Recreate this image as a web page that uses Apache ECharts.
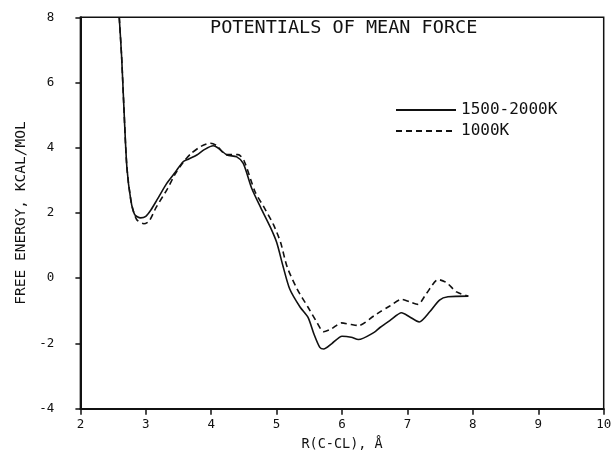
<!DOCTYPE html>
<html>
<head>
<meta charset="utf-8">
<script src="https://cdn.jsdelivr.net/npm/echarts@6/dist/echarts.min.js"></script>
<style>html,body{margin:0;padding:0;background:#fff}#c{width:611px;height:452px}</style>
</head>
<body>
<div id="c"></div>
<script>
var titleText = "POTENTIALS OF MEAN FORCE";
var xName = "R(C-CL), Å";
var yName = "FREE ENERGY, KCAL/MOL";
var seriesNames = ["1500-2000K", "1000K"];

var solidX = [2.594, 2.63, 2.66, 2.71, 2.77, 2.83, 2.92, 3.0, 3.08, 3.17, 3.32, 3.45, 3.57, 3.65, 3.78, 3.9, 4.03, 4.1, 4.24, 4.39, 4.49, 4.62, 4.76, 4.9, 5.0, 5.1, 5.2, 5.36, 5.48, 5.57, 5.66, 5.72, 5.84, 6.0, 6.14, 6.25, 6.49, 6.58, 6.73, 6.91, 7.03, 7.18, 7.34, 7.49, 7.62, 7.93];
var solidY = [8.0, 6.8, 5.46, 3.42, 2.4, 1.95, 1.85, 1.9, 2.1, 2.4, 2.91, 3.25, 3.57, 3.65, 3.78, 3.95, 4.06, 4.0, 3.78, 3.72, 3.52, 2.75, 2.15, 1.58, 1.1, 0.35, -0.33, -0.89, -1.2, -1.71, -2.12, -2.17, -2.01, -1.78, -1.81, -1.88, -1.66, -1.51, -1.3, -1.06, -1.18, -1.34, -1.03, -0.67, -0.57, -0.55];

var dashX = [2.594, 2.63, 2.66, 2.71, 2.78, 2.86, 2.97, 3.05, 3.16, 3.33, 3.45, 3.57, 3.69, 3.85, 3.99, 4.08, 4.23, 4.41, 4.5, 4.67, 4.8, 4.95, 5.06, 5.16, 5.31, 5.48, 5.6, 5.72, 5.84, 5.99, 6.14, 6.25, 6.49, 6.58, 6.73, 6.91, 7.03, 7.16, 7.29, 7.47, 7.6, 7.75, 7.93];
var dashY = [8.0, 6.8, 5.46, 3.42, 2.3, 1.8, 1.67, 1.75, 2.18, 2.74, 3.2, 3.55, 3.82, 4.05, 4.14, 4.07, 3.79, 3.79, 3.61, 2.65, 2.2, 1.65, 1.1, 0.35, -0.32, -0.89, -1.3, -1.64, -1.55, -1.37, -1.42, -1.45, -1.15, -1.03, -0.85, -0.65, -0.72, -0.8, -0.47, -0.04, -0.14, -0.42, -0.55];

function pairs(xs, ys) { return xs.map(function (x, i) { return [x, ys[i]]; }); }

var FONT = "DejaVu Sans Mono";
var chart = echarts.init(document.getElementById('c'), null, {renderer: 'canvas'});
chart.setOption({
  animation: false,
  backgroundColor: '#fff',
  title: {
    text: titleText, left: 210, top: 19, padding: 0,
    textStyle: {fontFamily: FONT, fontSize: 18.5, fontWeight: 'normal', color: '#111'}
  },
  legend: {
    show: true,
    orient: 'vertical', left: 395, top: 102, padding: 0,
    itemWidth: 60, itemHeight: 14, itemGap: 5,
    itemStyle: {opacity: 0},
    textStyle: {fontFamily: FONT, fontSize: 16, color: '#111'},
    data: seriesNames
  },
  grid: {left: 80.4, right: 7.3, top: 17.3, bottom: 43.3, show: true, borderColor: '#111', borderWidth: 1.5,
         containLabel: false, outerBoundsMode: 'none'},
  xAxis: {
    type: 'value', min: 2, max: 10, interval: 1,
    name: xName, nameLocation: 'middle', nameGap: 29,
    nameTextStyle: {fontFamily: FONT, fontSize: 13.5, color: '#111'},
    axisLine: {show: true, onZero: false, lineStyle: {color: '#111', width: 2}},
    axisTick: {show: true, inside: false, length: 6, lineStyle: {color: '#111', width: 1.5}},
    axisLabel: {fontFamily: FONT, fontSize: 12.5, color: '#111', margin: 10},
    splitLine: {show: false}
  },
  yAxis: {
    type: 'value', min: -4, max: 8, interval: 2,
    name: yName, nameLocation: 'middle', nameGap: 50, nameRotate: 90,
    nameTextStyle: {fontFamily: FONT, fontSize: 14.5, color: '#111'},
    axisLine: {show: true, onZero: false, lineStyle: {color: '#111', width: 2}},
    axisTick: {show: true, inside: false, length: 5, lineStyle: {color: '#111', width: 1.5}},
    axisLabel: {fontFamily: FONT, fontSize: 12.5, color: '#111', margin: 26},
    splitLine: {show: false}
  },
  series: [
    {
      name: seriesNames[0], type: 'line', data: pairs(solidX, solidY),
      symbol: 'none', smooth: 0.25, clip: true,
      lineStyle: {color: '#111', width: 1.6, type: 'solid'},
      itemStyle: {color: '#111'}
    },
    {
      name: seriesNames[1], type: 'line', data: pairs(dashX, dashY),
      symbol: 'none', smooth: 0.25, clip: true,
      lineStyle: {color: '#111', width: 1.6, type: [6, 4]},
      itemStyle: {color: '#111'}
    }
  ]
});
</script>
</body>
</html>
